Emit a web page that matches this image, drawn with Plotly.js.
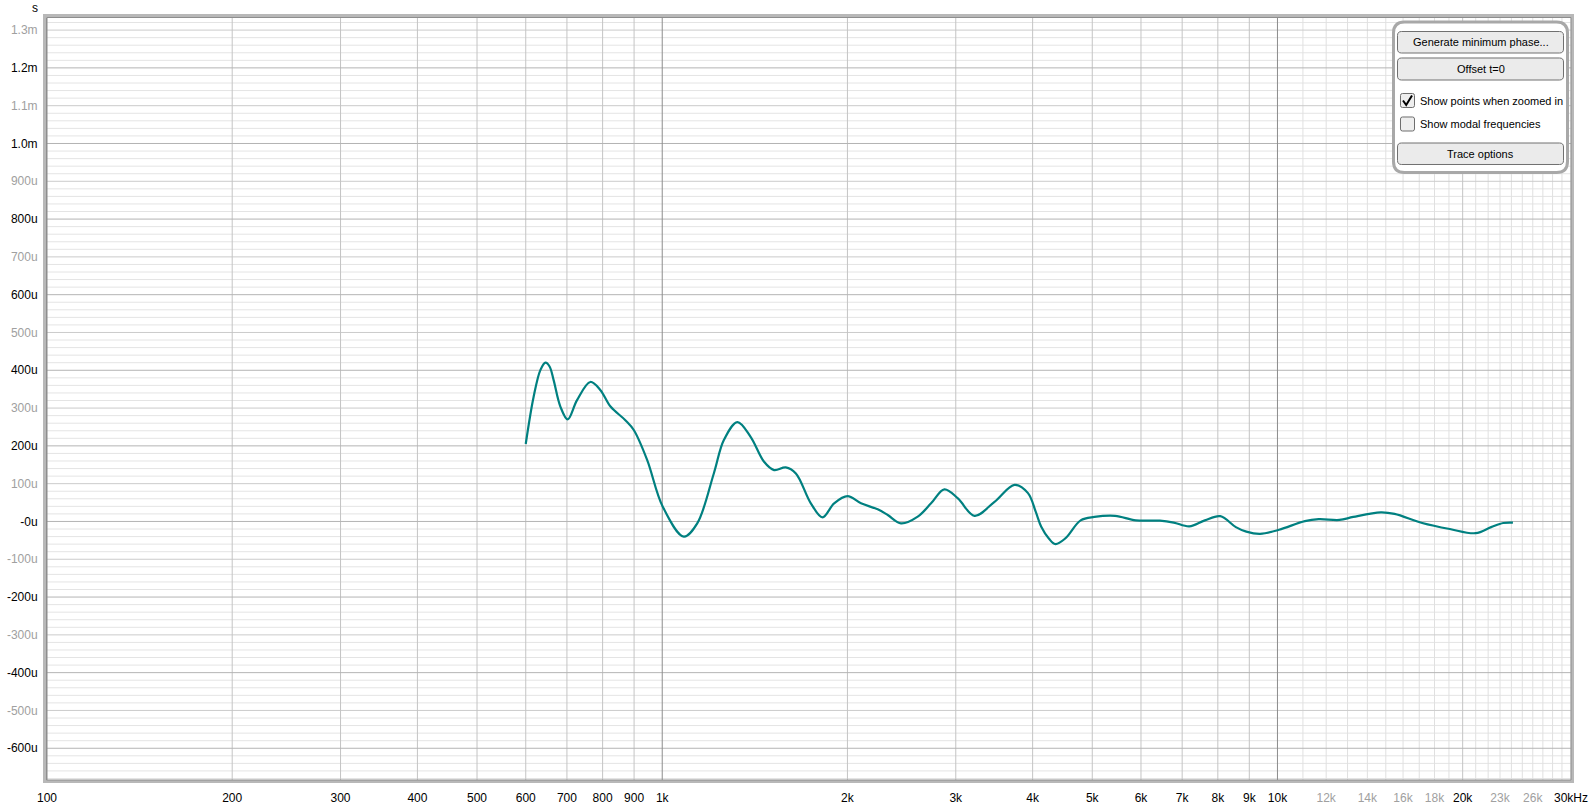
<!DOCTYPE html>
<html><head><meta charset="utf-8">
<script src="https://cdn.plot.ly/plotly-3.0.1.min.js"></script>
<style>html,body{margin:0;padding:0;background:#fff;overflow:hidden}#chart{width:1592px;height:807px}</style>
</head><body><div id="chart"></div>
<script>
// ---- data ----
const freqHz = [600,618,634,646,656,666,683,702,727,764,793,824,871,899,945,1002,1084,1140,1213,1260,1325,1392,1464,1520,1588,1649,1744,1822,1903,2001,2104,2240,2326,2444,2602,2735,2875,3024,3218,3468,3738,3931,4046,4131,4250,4355,4520,4787,5040,5445,5885,6441,6783,7191,7621,8075,8558,8900,9369,10058,11080,11670,12610,13280,14720,15500,17190,19060,21000,22250,23280,24140];
const groupDelayUs = [205,330,401,420,410,374,304,270,321,369,348,304,268,242,163,39,-40,-5,127,216,263,224,158,136,143,127,48,11,48,67,48,32,17,-5,13,48,85,61,15,52,97,75,26,-14,-45,-60,-45,3,12,15,3,2,-3,-13,3,14,-15,-27,-33,-22,1,6,4,12,24,20,-4,-20,-31,-15,-4,-3];
const xTickVals = [100,200,300,400,500,600,700,800,900,1000,2000,3000,4000,5000,6000,7000,8000,9000,10000,12000,14000,16000,18000,20000,23000,26000,30000];
const xTickLabels = ['100','200','300','400','500','600','700','800','900','1k','2k','3k','4k','5k','6k','7k','8k','9k','10k','12k','14k','16k','18k','20k','23k','26k','30kHz'];
const yTickVals = [-600,-500,-400,-300,-200,-100,0,100,200,300,400,500,600,700,800,900,1000,1100,1200,1300];
const yTickLabels = ['-600u','-500u','-400u','-300u','-200u','-100u','-0u','100u','200u','300u','400u','500u','600u','700u','800u','900u','1.0m','1.1m','1.2m','1.3m'];
const yAxisUnit = 's';
const panelButtons = ['Generate minimum phase...','Offset t=0','Trace options'];
const panelChecks = ['Show points when zoomed in','Show modal frequencies'];
const panelChecked = [true,false];

// ---- layout geometry ----
const W = 1592, H = 807;
const M = {l:47, r:21, t:18, b:27};
const PW = W - M.l - M.r, PH = H - M.t - M.b;
const px = x => (x - M.l) / PW;
const py = y => (H - M.b - y) / PH;
const X_RANGE = [100, 30000];
const Y_RANGE = [-684, 1332];
const BLACK = '#000000', MUTED = '#a0a0a0';
const UIFONT = 'Liberation Sans, Arial, sans-serif';

const xText = xTickVals.map((v,i) => (v > 10000 && v < 30000 && v !== 20000)
  ? '<span style="color:' + MUTED + '">' + xTickLabels[i] + '</span>' : xTickLabels[i]);
const yText = yTickVals.map((v,i) => (Math.abs(v/100) % 2 === 1)
  ? '<span style="color:' + MUTED + '">' + yTickLabels[i] + '</span>' : yTickLabels[i]);

// ---- grid lines (all as shapes under the trace, ordered light -> dark) ----
const C_LIGHT = '#e4e4e4', C_XLIGHT = '#e0e0e0', C_MID = '#cbcbcb', C_XMID = '#c4c4c4', C_EVEN = '#b4b4b4', C_DECADE = '#8c8c8c';
const hLine = (v, c) => ({type:'line', xref:'x', yref:'y', x0:X_RANGE[0], x1:X_RANGE[1], y0:v, y1:v, layer:'below', line:{color:c, width:1}});
const vLine = (v, c) => ({type:'line', xref:'x', yref:'y', x0:v, x1:v, y0:Y_RANGE[0], y1:Y_RANGE[1], layer:'below', line:{color:c, width:1}});

const gridX = [];
for (let d = 100; d < 10000; d *= 10) for (let k = 1; k < 10; k++) gridX.push(d*k);
for (let k = 10; k <= 30; k++) gridX.push(k*1000);
const isDecade = v => Math.abs(Math.log10(v) - Math.round(Math.log10(v))) < 1e-9;
const xClass = v => isDecade(v) ? 3 : (v > 10000 && v !== 20000 ? 1 : 2);

const gridY = [];
for (let v = -680; v <= 1320; v += 20) gridY.push(v);
const yClass = v => (v % 100 !== 0) ? 1 : (Math.abs(v/100) % 2 === 1 ? 2 : 3);

const shapes = [];
gridY.filter(v => yClass(v) === 1).forEach(v => shapes.push(hLine(v, C_LIGHT)));
gridX.filter(v => xClass(v) === 1).forEach(v => shapes.push(vLine(v, C_XLIGHT)));
gridY.filter(v => yClass(v) === 2).forEach(v => shapes.push(hLine(v, C_MID)));
gridX.filter(v => xClass(v) === 2).forEach(v => shapes.push(vLine(v, C_XMID)));
gridY.filter(v => yClass(v) === 3).forEach(v => shapes.push(hLine(v, C_EVEN)));
gridX.filter(v => xClass(v) === 3).forEach(v => shapes.push(vLine(v, C_DECADE)));

function rrect(x0, y0, x1, y1, r) {
  const P = (x, y) => px(x).toFixed(6) + ',' + py(y).toFixed(6);
  return 'M' + P(x0+r,y0) + ' L' + P(x1-r,y0) + ' Q' + P(x1,y0) + ' ' + P(x1,y0+r) +
    ' L' + P(x1,y1-r) + ' Q' + P(x1,y1) + ' ' + P(x1-r,y1) +
    ' L' + P(x0+r,y1) + ' Q' + P(x0,y1) + ' ' + P(x0,y1-r) +
    ' L' + P(x0,y0+r) + ' Q' + P(x0,y0) + ' ' + P(x0+r,y0) + ' Z';
}
// plot frame
shapes.push({type:'rect', xref:'paper', yref:'paper', x0:px(44.5), x1:px(1572.5), y0:py(781.5), y1:py(15.5), layer:'above', line:{color:'#b8b8b8', width:3}});
shapes.push({type:'rect', xref:'paper', yref:'paper', x0:px(46.5), x1:px(1571), y0:py(780), y1:py(17.5), layer:'above', line:{color:'#8e8e8e', width:1}});

// control panel
const annotations = [];
shapes.push({type:'path', xref:'paper', yref:'paper', layer:'above', path: rrect(1393.5, 22, 1567.5, 172.5, 11), fillcolor:'#ffffff', line:{color:'#a8a8a8', width:3}});
const btnY = [[31.5,53],[58,80],[143,164.5]];
panelButtons.forEach((t,i) => {
  shapes.push({type:'path', xref:'paper', yref:'paper', layer:'above', path: rrect(1397.5, btnY[i][0], 1563.5, btnY[i][1], 4), fillcolor:'#ebebeb', line:{color:'#707070', width:1}});
  annotations.push({xref:'paper', yref:'paper', x:px(1480.5), y:py((btnY[i][0]+btnY[i][1])/2), text:t, showarrow:false, xanchor:'center', yanchor:'middle', font:{size:11, color:'#000', family:UIFONT}});
});
const chkY = [93, 116.5];
panelChecks.forEach((t,i) => {
  shapes.push({type:'path', xref:'paper', yref:'paper', layer:'above', path: rrect(1400.5, chkY[i]+0.5, 1414.5, chkY[i]+14.5, 2), fillcolor:'#eeeeee', line:{color:'#6e6e6e', width:1}});
  if (panelChecked[i]) {
    const P = (x, y) => px(x).toFixed(6) + ',' + py(y).toFixed(6);
    shapes.push({type:'path', xref:'paper', yref:'paper', layer:'above', path:'M' + P(1403, chkY[i]+7.5) + ' L' + P(1406.2, chkY[i]+12) + ' L' + P(1412, chkY[i]+2.5), line:{color:'#000', width:2}});
  }
  annotations.push({xref:'paper', yref:'paper', x:px(1418), y:py(chkY[i]+7.5), text:t, showarrow:false, xanchor:'left', yanchor:'middle', font:{size:11, color:'#000', family:UIFONT}});
});
annotations.push({xref:'paper', yref:'paper', x:px(35), y:py(8), text:yAxisUnit, showarrow:false, xanchor:'center', yanchor:'middle', font:{size:12, color:'#000'}});

const trace = {
  x: freqHz, y: groupDelayUs, type:'scatter', mode:'lines',
  line:{color:'#008080', width:2.2, shape:'spline', smoothing:1},
  hoverinfo:'skip'
};

const layout = {
  width: W, height: H,
  margin: {l:M.l, r:M.r, t:M.t, b:M.b, pad:0},
  paper_bgcolor:'#ffffff', plot_bgcolor:'#ffffff',
  showlegend:false, hovermode:false,
  font:{family:UIFONT, size:12, color:'#000'},
  xaxis:{type:'log', range:[Math.log10(X_RANGE[0]), Math.log10(X_RANGE[1])], showgrid:false, zeroline:false, showline:false,
    tickmode:'array', tickvals:xTickVals, ticktext:xText, ticks:'outside', ticklen:7, tickcolor:'rgba(0,0,0,0)',
    tickfont:{size:12, color:BLACK}, fixedrange:true},
  yaxis:{range:Y_RANGE, showgrid:false, zeroline:false, showline:false,
    tickmode:'array', tickvals:yTickVals, ticktext:yText, ticks:'outside', ticklen:6, tickcolor:'rgba(0,0,0,0)',
    tickfont:{size:12, color:BLACK}, fixedrange:true},
  shapes: shapes,
  annotations: annotations
};

Plotly.newPlot('chart', [trace], layout, {displayModeBar:false, staticPlot:true});
</script>
</body></html>
